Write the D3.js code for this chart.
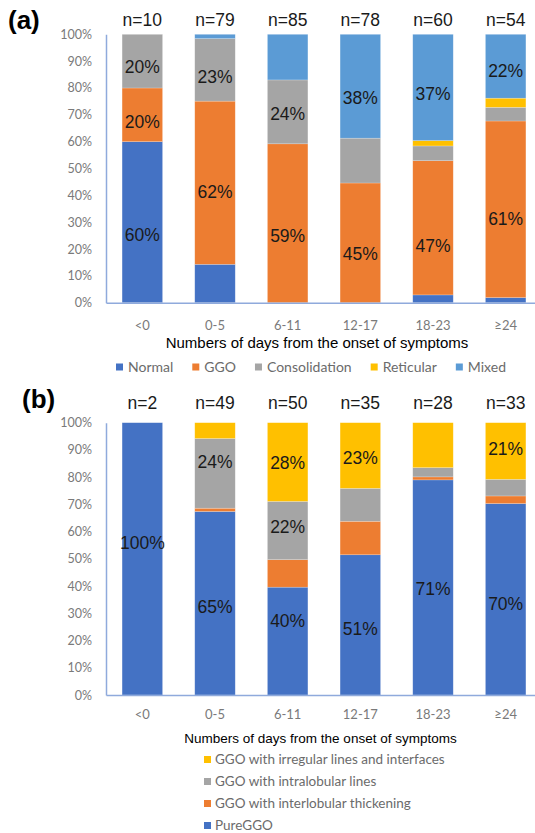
<!DOCTYPE html>
<html>
<head>
<meta charset="utf-8">
<script src="https://cdn.jsdelivr.net/npm/d3@7"></script>
<style>
  body { margin: 0; background: #fff; }
  svg { display: block; }
</style>
</head>
<body>
<svg class="chart-svg" width="535" height="833"></svg>
<script>
// categories shared by both panels
var categories = ["<0", "0-5", "6-11", "12-17", "18-23", "\u226524"];

// panel (a)
var nA = [10, 79, 85, 78, 60, 54];
var seriesA = ["Normal", "GGO", "Consolidation", "Reticular", "Mixed"];
var normalA = [60, 14.3, 0, 0, 2.9, 1.9];
var ggoA = [20, 60.8, 59.2, 44.6, 50, 65.8];
var consolidationA = [20, 23.3, 23.8, 16.7, 5.5, 5.1];
var reticularA = [0, 0, 0, 0, 2, 3.4];
var mixedA = [0, 1.6, 17, 38.7, 39.6, 23.8];
// printed labels: [category index, text, value where it sits]
var labelsA = [[0, "20%", 88], [0, "20%", 67.3], [0, "60%", 25.5], [1, "23%", 84.2], [1, "62%", 41.4],
    [2, "24%", 70.3], [2, "59%", 25.1], [3, "38%", 76.3], [3, "45%", 18.2], [4, "37%", 77.8],
    [4, "47%", 21.3], [5, "22%", 86.4], [5, "61%", 31.4]];

// panel (b)
var nB = [2, 49, 50, 35, 28, 33];
var seriesB = ["PureGGO", "GGO with interlobular thickening", "GGO with intralobular lines", "GGO with irregular lines and interfaces"];
var pureB = [100, 67.4, 39.6, 51.5, 79, 70.3];
var interB = [0, 1.2, 10.1, 12.3, 1.1, 2.8];
var intraB = [0, 25.6, 21.4, 12.1, 3.4, 6.1];
var irregularB = [0, 5.8, 28.9, 24.1, 16.5, 20.8];
var labelsB = [[0, "100%", 56], [1, "24%", 85.6], [1, "65%", 32.3], [2, "28%", 85.2], [2, "22%", 61.8],
    [2, "40%", 27.3], [3, "23%", 87.1], [3, "51%", 24.4], [4, "71%", 39.2], [5, "21%", 90.6], [5, "70%", 33.6]];

var tickValues = [0, 10, 20, 30, 40, 50, 60, 70, 80, 90, 100];

var colorsA = ["#4472C4", "#ED7D31", "#A5A5A5", "#FFC000", "#5B9BD5"];
var colorsB = ["#4472C4", "#ED7D31", "#A5A5A5", "#FFC000"];

var svg = d3.select(".chart-svg");
var axisColor = "#8FAADC";
var tickFont = "Lato, 'Open Sans', sans-serif";
var labelFont = "'Liberation Sans', Arial, sans-serif";

var x = d3.scaleBand()
    .domain(categories)
    .range([106, 542])
    .paddingInner(0.443)
    .paddingOuter(0.2215);

function buildRows(names, cols) {
    return categories.map(function(c, i) {
        var row = { cat: c };
        names.forEach(function(s, j) { row[s] = cols[j][i]; });
        return row;
    });
}

function drawPanel(opt) {
    var y = d3.scaleLinear().domain([0, 100]).range([opt.bottom, opt.top]);
    var g = svg.append("g");

    var stack = d3.stack().keys(opt.series);
    var layers = stack(buildRows(opt.series, opt.cols));

    g.selectAll("g.layer")
        .data(layers)
        .enter().append("g")
        .attr("class", "layer")
        .attr("fill", function(d, i) { return opt.colors[i]; })
        .selectAll("rect")
        .data(function(d) { return d; })
        .enter().append("rect")
        .attr("x", function(d) { return x(d.data.cat); })
        .attr("width", x.bandwidth())
        .attr("y", function(d) { return y(d[1]); })
        .attr("height", function(d) { return y(d[0]) - y(d[1]); })
        .attr("stroke", "#fff")
        .attr("stroke-opacity", 0.35)
        .attr("stroke-width", 0.6);

    // value axis
    var yAxis = g.append("g")
        .attr("transform", "translate(106,0)")
        .call(d3.axisLeft(y).tickValues(tickValues).tickSize(0).tickSizeOuter(0).tickPadding(14)
            .tickFormat(function(d) { return d + "%"; }));
    yAxis.select(".domain").attr("stroke", axisColor).attr("stroke-width", 1.5);
    yAxis.selectAll("text").attr("fill", "#7a7a7a").style("font-family", tickFont).style("font-size", "12.5px");

    // category axis
    var xAxis = g.append("g")
        .attr("transform", "translate(0," + opt.bottom + ")")
        .call(d3.axisBottom(x).tickSize(0).tickSizeOuter(0).tickPadding(opt.xPad));
    xAxis.select(".domain").attr("stroke", axisColor).attr("stroke-width", 1.5);
    xAxis.selectAll("text").attr("fill", "#7a7a7a").style("font-family", tickFont).style("font-size", "13px");

    // n= counts above the bars
    g.selectAll("text.count")
        .data(opt.n)
        .enter().append("text")
        .attr("class", "count")
        .attr("x", function(d, i) { return x(categories[i]) + x.bandwidth() / 2; })
        .attr("y", opt.countY)
        .attr("text-anchor", "middle")
        .style("font-family", labelFont)
        .style("font-size", "17.5px")
        .attr("fill", "#1a1a1a")
        .text(function(d) { return "n=" + d; });

    // percent labels
    g.selectAll("text.pct")
        .data(opt.labels)
        .enter().append("text")
        .attr("class", "pct")
        .attr("x", function(d) { return x(categories[d[0]]) + x.bandwidth() / 2; })
        .attr("y", function(d) { return y(d[2]); })
        .attr("dy", "0.36em")
        .attr("text-anchor", "middle")
        .style("font-family", labelFont)
        .style("font-size", "17.5px")
        .attr("fill", "#1a1a1a")
        .text(function(d) { return d[1]; });

    // panel letter
    g.append("text")
        .attr("x", opt.letterX)
        .attr("y", opt.letterY)
        .style("font-family", labelFont)
        .style("font-weight", "bold")
        .style("font-size", "26px")
        .attr("fill", "#000")
        .text(opt.letter);

    // axis title
    g.append("text")
        .attr("x", opt.titleX)
        .attr("y", opt.titleY)
        .attr("text-anchor", "middle")
        .style("font-family", labelFont)
        .style("font-size", opt.titleSize)
        .attr("fill", "#000")
        .text("Numbers of days from the onset of symptoms");

    return g;
}

var gA = drawPanel({
    top: 34.3, bottom: 302.7, series: seriesA, colors: colorsA,
    cols: [normalA, ggoA, consolidationA, reticularA, mixedA],
    n: nA, labels: labelsA, countY: 25.5, xPad: 18,
    letter: "(a)", letterX: 8, letterY: 29,
    titleX: 317, titleY: 347.5, titleSize: "15px"
});

var gB = drawPanel({
    top: 422.7, bottom: 695, series: seriesB, colors: colorsB,
    cols: [pureB, interB, intraB, irregularB],
    n: nB, labels: labelsB, countY: 409, xPad: 15,
    letter: "(b)", letterX: 22, letterY: 408,
    titleX: 320.5, titleY: 742.5, titleSize: "13.5px"
});

// legend (a): one row
var legA = gA.append("g").attr("transform", "translate(116,367)");
var cursor = 0;
seriesA.forEach(function(s, i) {
    legA.append("rect")
        .attr("x", cursor).attr("y", -3.5)
        .attr("width", 7).attr("height", 7)
        .attr("fill", colorsA[i]);
    var t = legA.append("text")
        .attr("x", cursor + 12).attr("y", 0).attr("dy", "0.35em")
        .style("font-family", tickFont).style("font-size", "14px")
        .attr("fill", "#6b6b6b")
        .text(s);
    cursor += 12 + t.node().getComputedTextLength() + 19;
});

// legend (b): stacked list, top entry is the top series
var legB = gB.append("g").attr("transform", "translate(204,759.5)");
seriesB.slice().reverse().forEach(function(s, i) {
    var ci = seriesB.length - 1 - i;
    legB.append("rect")
        .attr("x", 0).attr("y", i * 22 - 3.5)
        .attr("width", 7).attr("height", 7)
        .attr("fill", colorsB[ci]);
    legB.append("text")
        .attr("x", 11).attr("y", i * 22).attr("dy", "0.35em")
        .style("font-family", tickFont).style("font-size", "13.5px")
        .attr("fill", "#6b6b6b")
        .text(s);
});
</script>
</body>
</html>
